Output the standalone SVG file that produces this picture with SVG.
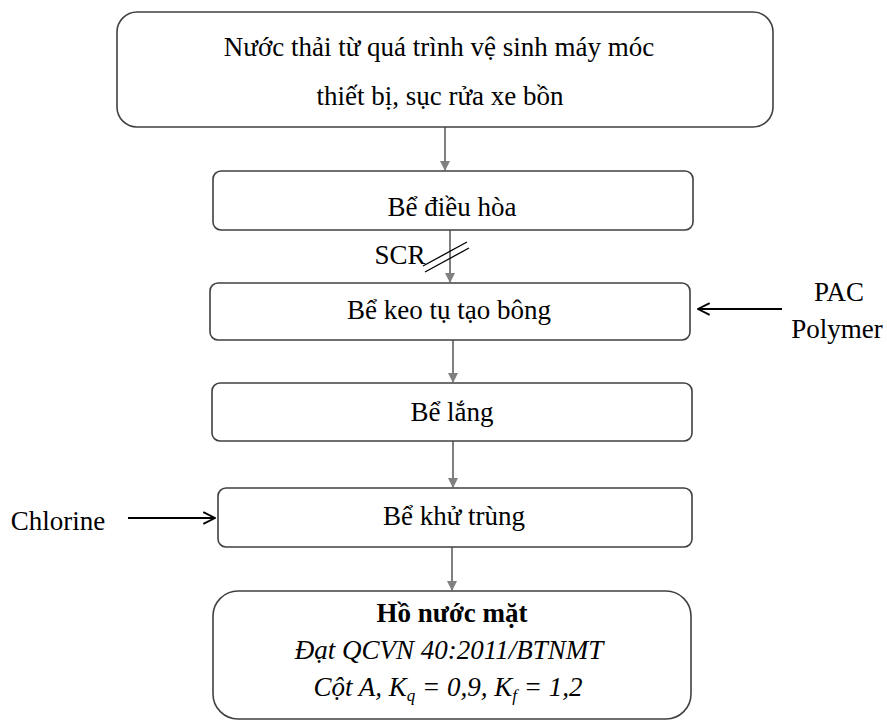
<svg xmlns="http://www.w3.org/2000/svg" width="887" height="726" viewBox="0 0 887 726">
<defs>
<style>
.box{fill:#fff;stroke:#404040;stroke-width:1.6}
.t{font-family:"Liberation Serif","Times New Roman",serif;font-size:27px;fill:#000;text-anchor:middle}
.conn{stroke:#808080;stroke-width:2;fill:none}
.blk{stroke:#000;stroke-width:2;fill:none}
</style>
<marker id="ag" viewBox="0 0 10 10" refX="9" refY="5" markerWidth="5" markerHeight="5" orient="auto" markerUnits="strokeWidth">
<path d="M0,0 L10,5 L0,10 z" fill="#808080"/>
</marker>
<marker id="ab" viewBox="0 0 12 12" refX="11" refY="6" markerWidth="7" markerHeight="7" orient="auto" markerUnits="strokeWidth">
<path d="M1,1 L11,6 L1,11" fill="none" stroke="#000" stroke-width="1.6"/>
</marker>
</defs>
<rect width="887" height="726" fill="#fff"/>
<g id="connectors">
<line class="conn" x1="445" y1="127" x2="445" y2="170" marker-end="url(#ag)"/>
<line class="conn" x1="450" y1="230" x2="450" y2="282" marker-end="url(#ag)"/>
<line class="conn" x1="453" y1="340" x2="453" y2="382" marker-end="url(#ag)"/>
<line class="conn" x1="453" y1="441" x2="453" y2="487" marker-end="url(#ag)"/>
<line class="conn" x1="452" y1="547" x2="452" y2="590" marker-end="url(#ag)"/>
<line stroke="#000" stroke-width="1.3" x1="423" y1="266" x2="467" y2="242"/>
<line stroke="#000" stroke-width="1.3" x1="425" y1="272" x2="469" y2="248"/>
<line class="blk" x1="782" y1="309" x2="698" y2="309" marker-end="url(#ab)"/>
<line class="blk" x1="128" y1="518" x2="215" y2="518" marker-end="url(#ab)"/>
</g>
<g id="n1">
<rect class="box" x="117" y="12" width="656" height="115" rx="20"/>
<text class="t" x="439" y="56">Nước thải từ quá trình vệ sinh máy móc</text>
<text class="t" x="440" y="105">thiết bị, sục rửa xe bồn</text>
</g>
<g id="n2">
<rect class="box" x="213" y="171" width="480" height="59" rx="8"/>
<text class="t" x="452" y="216">Bể điều hòa</text>
</g>
<g id="scr">
<text class="t" x="400" y="264">SCR</text>
</g>
<g id="n3">
<rect class="box" x="210" y="283" width="480" height="57" rx="8"/>
<text class="t" x="449" y="319">Bể keo tụ tạo bông</text>
</g>
<g id="pac">
<text class="t" x="839" y="301">PAC</text>
<text class="t" x="837" y="338">Polymer</text>
</g>
<g id="n4">
<rect class="box" x="212" y="383" width="480" height="58" rx="8"/>
<text class="t" x="452" y="421">Bể lắng</text>
</g>
<g id="n5">
<rect class="box" x="218" y="488" width="474" height="59" rx="8"/>
<text class="t" x="454" y="525">Bể khử trùng</text>
</g>
<g id="chl">
<text class="t" x="58" y="530">Chlorine</text>
</g>
<g id="n6">
<rect class="box" x="213" y="591" width="478" height="128" rx="25"/>
<text class="t" x="452" y="622" font-weight="bold">Hồ nước mặt</text>
<text class="t" x="449" y="659" font-style="italic">Đạt QCVN 40:2011/BTNMT</text>
<text class="t" x="448" y="696" font-style="italic">Cột A, K<tspan font-size="17" dy="5">q</tspan><tspan dy="-5"> = 0,9, K</tspan><tspan font-size="17" dy="5">f</tspan><tspan dy="-5"> = 1,2</tspan></text>
</g>
</svg>
